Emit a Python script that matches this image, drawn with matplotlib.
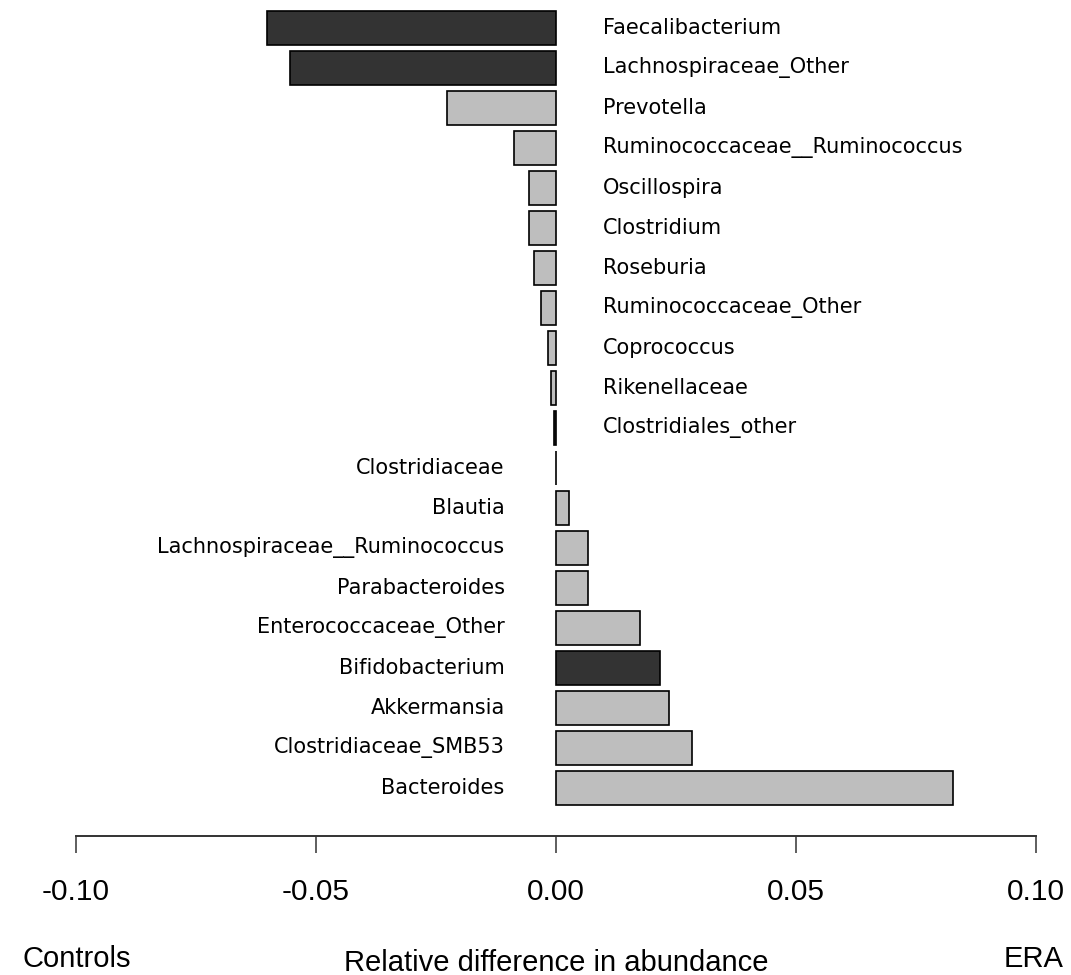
import matplotlib
matplotlib.use('Agg')
import matplotlib.pyplot as plt

# genera, top to bottom
genera = ['Faecalibacterium', 'Lachnospiraceae_Other', 'Prevotella',
          'Ruminococcaceae__Ruminococcus', 'Oscillospira', 'Clostridium',
          'Roseburia', 'Ruminococcaceae_Other', 'Coprococcus', 'Rikenellaceae',
          'Clostridiales_other', 'Clostridiaceae', 'Blautia',
          'Lachnospiraceae__Ruminococcus', 'Parabacteroides',
          'Enterococcaceae_Other', 'Bifidobacterium', 'Akkermansia',
          'Clostridiaceae_SMB53', 'Bacteroides']
diff = [-0.0602, -0.0555, -0.0227, -0.0088, -0.0056, -0.0056, -0.0046,
        -0.0031, -0.0017, -0.0011, -0.0005, 0.0001, 0.0028, 0.0067, 0.0067,
        0.0175, 0.0217, 0.0235, 0.0283, 0.0827]
significant = [True, True, False, False, False, False, False, False, False,
               False, True, False, False, False, False, False, True, False,
               False, False]
ticks = [-0.10, -0.05, 0.00, 0.05, 0.10]

W, H = 1071, 975
fig = plt.figure(figsize=(W / 100, H / 100), dpi=100)
fig.patch.set_facecolor('white')

axis_y = 836
ax = fig.add_axes([76 / W, (H - axis_y) / H, 960 / W, axis_y / H])

pos = list(range(len(genera)))
colors = ['#333333' if s else '#bebebe' for s in significant]
ax.barh(pos, diff, height=0.85, color=colors, edgecolor='black', linewidth=1.2)

# names sit on the opposite side of zero from the bar
for p, name, v in zip(pos, genera, diff):
    if v < 0:
        ax.annotate(name, (0, p), xytext=(34, 0), textcoords='offset points',
                    ha='left', va='center', fontsize=15, family='DejaVu Sans')
    else:
        ax.annotate(name, (0, p), xytext=(-37, 0), textcoords='offset points',
                    ha='right', va='center', fontsize=15, family='DejaVu Sans')

ax.set_xlim(-0.1, 0.1)
ax.set_ylim(20.2, -0.7)
for s in ['top', 'right', 'left']:
    ax.spines[s].set_visible(False)
ax.spines['bottom'].set_linewidth(1.4)
ax.spines['bottom'].set_color('#333333')
ax.set_yticks([])
ax.set_xticks(ticks)
ax.set_xticklabels(['%.2f' % t for t in ticks],
                   family='Liberation Sans', fontsize=21.5)
ax.tick_params(axis='x', direction='out', length=12, width=1.1, pad=18,
               color='#333333')

bottom_font = dict(family='Liberation Sans', fontsize=21)
fig.text(22 / W, 1 - 967 / H, 'Controls', ha='left', va='baseline', **bottom_font)
fig.text(1064 / W, 1 - 967 / H, 'ERA', ha='right', va='baseline', **bottom_font)
fig.text(556 / W, 1 - 971 / H, 'Relative difference in abundance',
         ha='center', va='baseline', **bottom_font)

fig.savefig('out.png', dpi=100, facecolor='white')
